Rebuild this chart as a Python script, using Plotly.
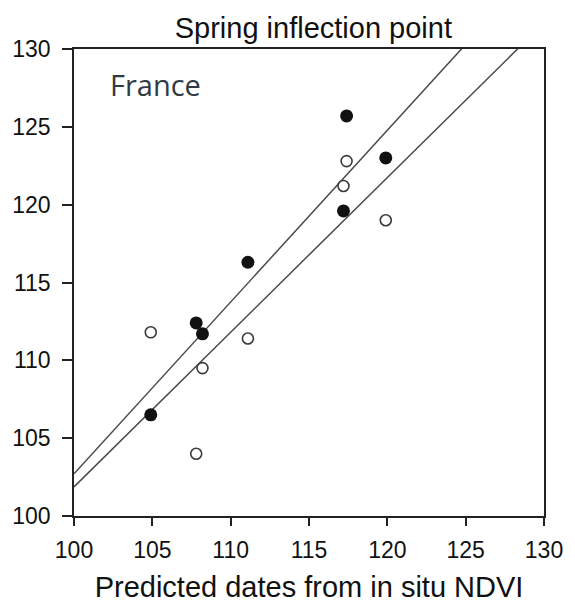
import plotly.graph_objects as go

# Data
filled_x = [117.4, 119.9, 117.2, 111.1, 107.8, 108.2, 104.9]
filled_y = [125.7, 123.0, 119.6, 116.3, 112.4, 111.7, 106.5]
open_x = [117.4, 117.2, 119.9, 104.9, 111.1, 108.2, 107.8]
open_y = [122.8, 121.2, 119.0, 111.8, 111.4, 109.5, 104.0]

# regression lines: value at x=100 and slope
line_intercepts = [102.71, 101.87]
line_slopes = [1.1035, 0.9936]

tick_vals = [100, 105, 110, 115, 120, 125, 130]

fig = go.Figure()

for a, b in zip(line_intercepts, line_slopes):
    xs = [100, 130]
    ys = [a + b * (x - 100) for x in xs]
    fig.add_trace(go.Scatter(x=xs, y=ys, mode="lines",
                             line=dict(color="#4a4a4a", width=1.5),
                             showlegend=False, hoverinfo="skip"))

fig.add_trace(go.Scatter(x=open_x, y=open_y, mode="markers",
                         marker=dict(size=11, color="white",
                                     line=dict(color="#3a3a3a", width=1.6)),
                         showlegend=False))
fig.add_trace(go.Scatter(x=filled_x, y=filled_y, mode="markers",
                         marker=dict(size=13, color="#111111",
                                     line=dict(width=0)),
                         showlegend=False))

axis_common = dict(
    range=[100, 130], tickvals=tick_vals, ticks="outside",
    showline=True, linecolor="#222222", linewidth=1.5, mirror=True,
    showgrid=False, zeroline=False, tickcolor="#222222", tickwidth=1.5,
    tickfont=dict(family="Liberation Sans, Arial, sans-serif", size=23, color="#111111"),
)

fig.update_xaxes(**axis_common, ticklen=8, ticklabelstandoff=5,
                 title=dict(text="Predicted dates from in situ NDVI",
                            font=dict(family="Liberation Sans, Arial, sans-serif", size=29, color="#111111"),
                            standoff=14))
fig.update_yaxes(**axis_common, ticklen=10, ticklabelstandoff=7)

fig.add_annotation(x=102.2, y=127.7, xref="x", yref="y", text="France",
                   showarrow=False, xanchor="left", yanchor="middle",
                   font=dict(family="Open Sans, sans-serif", size=29, color="#2f3a44"))

fig.update_layout(
    width=575, height=610,
    margin=dict(l=71, r=24, t=49, b=84),
    paper_bgcolor="white", plot_bgcolor="white",
    title=dict(text="Spring inflection point", x=0.545, xanchor="center",
               y=0.955, yanchor="middle",
               font=dict(family="Liberation Sans, Arial, sans-serif", size=29, color="#111111")),
)

fig.write_html("out.html")
